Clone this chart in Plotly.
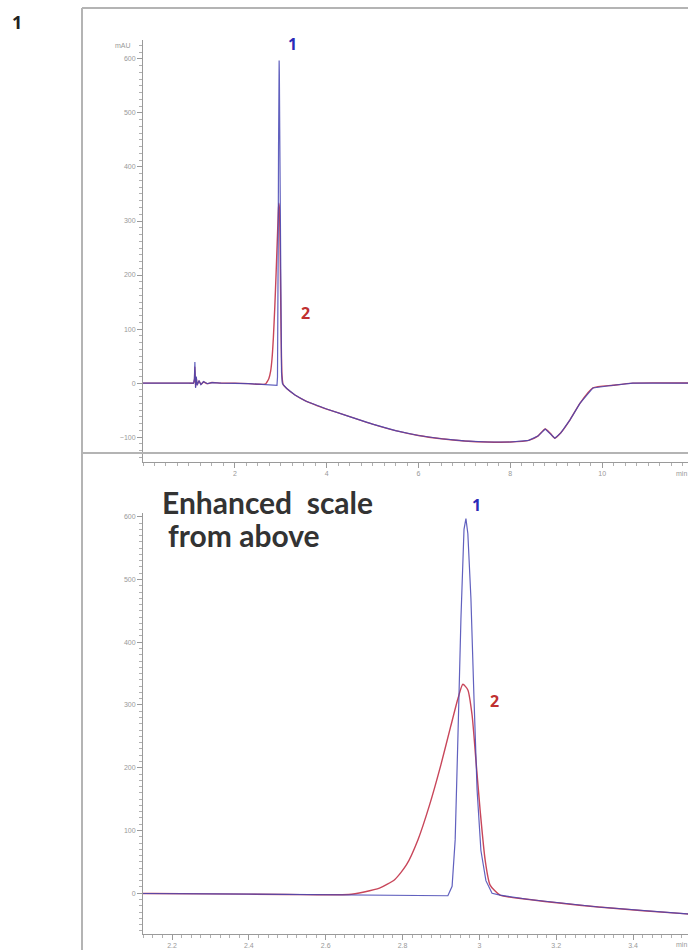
import plotly.graph_objects as go

# ---------------- data ----------------
blue_time = [0.0, 0.5, 1.0, 1.10, 1.12, 1.13, 1.145, 1.16, 1.18, 1.22, 1.26, 1.32, 1.40, 1.50, 1.70,
             2.0, 2.3, 2.5, 2.7, 2.85, 2.918, 2.929, 2.937, 2.944, 2.952, 2.960, 2.965, 2.970,
             2.978, 2.986, 2.994, 3.004, 3.017, 3.033, 3.054, 3.13, 3.31, 3.54, 3.8, 4.0, 4.5,
             5.0, 5.5, 6.0, 6.5, 7.0, 7.5, 8.0, 8.4, 8.6, 8.76, 8.87, 8.97, 9.1, 9.3, 9.52,
             9.8, 10.24, 10.67, 12.0]
blue_mau = [0, 0, 0, 0, 8, 39, -9, 12, -4, 5, -3, 3, -1, 1, 0,
            0, -1, -2, -3, -4, -4, 11, 85, 245, 437, 580, 597, 573,
            470, 310, 165, 68, 20, 0, -3, -10, -22, -33, -42, -48, -62,
            -76, -88, -97, -103, -107, -109, -109, -106, -98, -85, -93, -102, -92, -68, -37,
            -9, -4, 0, 0]

red_time = [0.0, 0.5, 1.0, 1.10, 1.12, 1.13, 1.145, 1.16, 1.18, 1.22, 1.26, 1.32, 1.40, 1.50, 1.70,
            2.0, 2.3, 2.5, 2.66, 2.70, 2.74, 2.78, 2.81, 2.84, 2.87, 2.90, 2.925, 2.945,
            2.957, 2.970, 2.981, 2.991, 3.002, 3.015, 3.028, 3.054, 3.13, 3.31, 3.54, 3.8, 4.0,
            4.5, 5.0, 5.5, 6.0, 6.5, 7.0, 7.5, 8.0, 8.4, 8.6, 8.76, 8.87, 8.97, 9.1, 9.3, 9.52,
            9.8, 10.24, 10.67, 12.0]
red_mau = [0, 0, 0, 0, 6, 30, -7, 10, -3, 4, -2, 2, -1, 1, 0,
           0, -1, -2, -2, 2, 8, 22, 45, 85, 140, 205, 265, 312,
           333, 324, 284, 212, 132, 53, 13, -3, -10, -22, -33, -42, -48,
           -62, -76, -88, -97, -103, -107, -109, -109, -106, -98, -85, -93, -102, -92, -68, -37,
           -9, -4, 0, 0]

top_x_ticks = [2, 4, 6, 8, 10]
top_y_ticks = [-100, 0, 100, 200, 300, 400, 500, 600]
bot_x_ticks = [2.2, 2.4, 2.6, 2.8, 3.0, 3.2, 3.4]
bot_x_labels = ["2.2", "2.4", "2.6", "2.8", "3", "3.2", "3.4"]
bot_y_ticks = [0, 100, 200, 300, 400, 500, 600]

BLUE = "#4646b4"
RED = "#c8465a"
W, H = 688, 950


def px(x):
    return x / W


def py(y):
    return 1 - y / H


fig = go.Figure()
for xa, ya in [("x", "y"), ("x2", "y2")]:
    fig.add_trace(go.Scatter(x=red_time, y=red_mau, mode="lines", xaxis=xa, yaxis=ya,
                             line=dict(color=RED, width=1.4, shape="spline", smoothing=0.6),
                             showlegend=False))
    fig.add_trace(go.Scatter(x=blue_time, y=blue_mau, mode="lines", xaxis=xa, yaxis=ya,
                             line=dict(color=BLUE, width=1.2), showlegend=False, opacity=0.85))

axcommon = dict(showline=True, linecolor="#9a9a9a", linewidth=1, ticks="outside", ticklen=5,
                tickcolor="#9a9a9a", showgrid=False, zeroline=False,
                tickfont=dict(size=7, color="#999999", family="Liberation Sans"))

fig.update_layout(
    width=W, height=H, margin=dict(l=0, r=0, t=0, b=0),
    paper_bgcolor="white", plot_bgcolor="white",
    xaxis=dict(domain=[px(143), 1], range=[0, 11.87], tickvals=top_x_ticks, anchor="y",
               minor=dict(ticks="outside", ticklen=3, dtick=0.25, tickcolor="#b0b0b0"), **axcommon),
    yaxis=dict(domain=[py(462), py(40)], range=[-146, 635], tickvals=top_y_ticks, anchor="x",
               minor=dict(ticks="outside", ticklen=3, dtick=12.5, tickcolor="#b0b0b0"), **axcommon),
    xaxis2=dict(domain=[px(143), 1], range=[2.1245, 3.543], tickvals=bot_x_ticks,
                ticktext=bot_x_labels, anchor="y2",
                minor=dict(ticks="outside", ticklen=3, dtick=0.025, tickcolor="#b0b0b0"), **axcommon),
    yaxis2=dict(domain=[py(934), py(513)], range=[-65, 606], tickvals=bot_y_ticks, anchor="x2",
                minor=dict(ticks="outside", ticklen=3, dtick=10, tickcolor="#b0b0b0"), **axcommon),
)

# frame lines
frame = dict(type="line", xref="paper", yref="paper", line=dict(color="#b4b4b4", width=2))
fig.add_shape(x0=px(82), x1=px(82), y0=py(8), y1=py(950), **frame)
fig.add_shape(x0=px(82), x1=1, y0=py(8), y1=py(8), **frame)
fig.add_shape(x0=px(82), x1=1, y0=py(453), y1=py(453), **frame)


def ann(x, y, text, size, color, xanchor="center", family="Open Sans"):
    fig.add_annotation(x=px(x), y=py(y), xref="paper", yref="paper", text=text, showarrow=False,
                       xanchor=xanchor, yanchor="middle",
                       font=dict(size=size, color=color, family=family))


ann(17, 22, "<b>1</b>", 18, "#222222")
ann(292, 44, "<b>1</b>", 16, "#2a2ab8")
ann(305, 313, "<b>2</b>", 16, "#c03030")
ann(476, 505, "<b>1</b>", 16, "#2a2ab8")
ann(494, 701, "<b>2</b>", 16, "#c03030")
ann(160, 502, "<b>Enhanced  scale</b>", 30, "#333333", xanchor="left", family="Lato")
ann(166, 535, "<b>from above</b>", 30, "#333333", xanchor="left", family="Lato")
ann(133, 45, "mAU", 7, "#999999", xanchor="right", family="Liberation Sans")
ann(681, 474, "min", 7, "#999999", family="Liberation Sans")
ann(681, 944, "min", 7, "#999999", family="Liberation Sans")

fig.write_html("out.html", config={"displayModeBar": False})

# remove the default page margin so the figure sits at the window's top-left corner
with open("out.html", "r", encoding="utf-8") as f:
    html = f.read()
html = html.replace("<head>", "<head><style>html,body{margin:0;padding:0;overflow:hidden;}</style>", 1)
with open("out.html", "w", encoding="utf-8") as f:
    f.write(html)
